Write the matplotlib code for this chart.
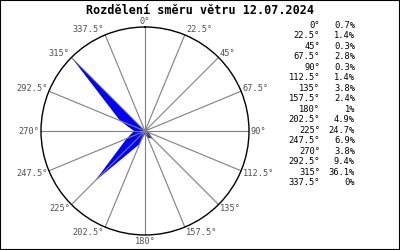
import numpy as np
import matplotlib
matplotlib.use("Agg")
import matplotlib.pyplot as plt
from matplotlib.patches import Rectangle

directions = [0, 22.5, 45, 67.5, 90, 112.5, 135, 157.5, 180,
              202.5, 225, 247.5, 270, 292.5, 315, 337.5]
percents = [0.7, 1.4, 0.3, 2.8, 0.3, 1.4, 3.8, 2.4, 1,
            4.9, 24.7, 6.9, 3.8, 9.4, 36.1, 0]
title = "Rozdělení směru větru 12.07.2024"

plt.rcParams["font.family"] = ["DejaVu Sans Mono"]

fig = plt.figure(figsize=(4, 2.5), dpi=100)
ax = fig.add_axes([0.1025, 0.06, 0.52, 0.832], projection="polar")
ax.set_theta_zero_location("N")
ax.set_theta_direction(-1)

theta = np.deg2rad(directions + [directions[0]])
r = percents + [percents[0]]
ax.fill(theta, r, color="#0000ff", lw=0)
rmax = max(percents)
ax.set_ylim(0, rmax)

ax.set_thetagrids(directions, [""] * len(directions))
ax.set_rticks([])
ax.grid(True, color="#808080", lw=0.8)
ax.spines["polar"].set_color("black")
ax.spines["polar"].set_linewidth(1)

# direction labels sit at the spoke ends, pushed outwards
for d in directions:
    s, c = np.sin(np.deg2rad(d)), np.cos(np.deg2rad(d))
    if abs(s) < 0.01:
        ha = "center"
    elif s > 0:
        ha = "left"
    else:
        ha = "right"
    ax.annotate("%g°" % d, xy=(np.deg2rad(d), rmax),
                xytext=(1.5 * np.sign(round(s, 2)), 6 * c),
                textcoords="offset pixels", ha=ha, va="center",
                fontsize=6.2, color="#505050", annotation_clip=False)

fig.text(0.5, 0.96, title, ha="center", va="center",
         fontsize=8.5, fontweight="bold")

for i, (d, p) in enumerate(zip(directions, percents)):
    y = 1 - (25 + i * 10.53) / 250
    fig.text(0.8, y, "%g°" % d, ha="right", va="center", fontsize=6.3)
    fig.text(0.8875, y, "%g%%" % p, ha="right", va="center", fontsize=6.3)

fig.patches.append(Rectangle((0, 0), 1, 1, transform=fig.transFigure,
                             fill=False, edgecolor="black", lw=1.5))

fig.savefig("out.png", dpi=100)
